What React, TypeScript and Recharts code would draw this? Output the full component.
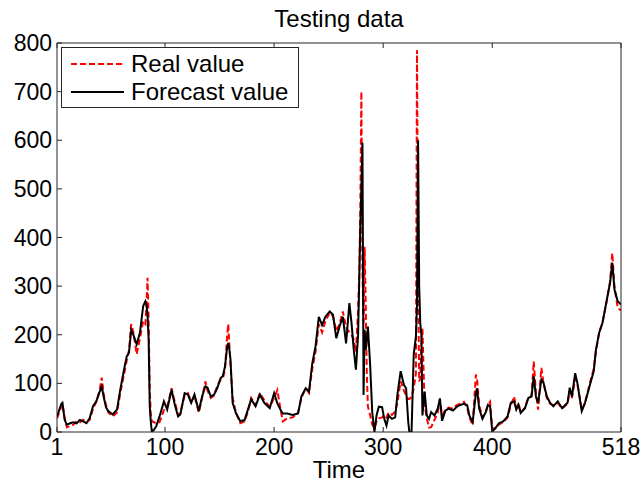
import { Line, LineChart, XAxis, YAxis } from 'recharts'

// time steps (irregular spacing, denser around spikes)
const time = [
  1, 3, 5, 6, 8, 10, 13, 16, 19, 22, 25, 28, 31, 34, 37, 40, 42, 44, 46, 48,
  52, 56, 59, 63, 65, 67, 69, 71, 74, 77, 80, 82, 83, 84, 85, 86, 87, 88, 90, 92,
  95, 99, 102, 106, 109, 112, 114, 118, 121, 124, 127, 131, 134, 137, 139, 142, 145, 148, 151, 153,
  155, 157, 158, 159, 160, 162, 165, 169, 173, 176, 179, 183, 187, 191, 196, 200, 203, 206, 208, 212,
  217, 222, 225, 229, 232, 235, 238, 241, 244, 247, 251, 254, 257, 260, 263, 266, 269, 271, 273, 275,
  277, 278, 279, 280, 281, 282, 283, 284, 285, 286, 288, 290, 292, 294, 296, 299, 301, 303, 305, 308,
  311, 313, 316, 319, 321, 323, 324, 326, 328, 330, 331, 332, 333, 334, 335, 336, 337, 338, 340, 342,
  344, 347, 350, 352, 354, 357, 360, 364, 367, 370, 374, 377, 379, 382, 385, 386, 388, 391, 394, 396,
  398, 400, 403, 406, 410, 414, 417, 420, 422, 424, 426, 430, 433, 436, 438, 440, 442, 445, 447, 450,
  453, 456, 460, 464, 469, 471, 473, 476, 478, 482, 485, 490, 493, 495, 498, 501, 505, 508, 510, 512,
  515, 518,
]

const realValue = [
  28, 40, 52, 58, 30, 10, 12, 15, 22, 20, 25, 20, 25, 48, 62, 85, 112, 75, 55, 40,
  32, 40, 80, 125, 148, 168, 222, 205, 160, 192, 228, 222, 260, 317, 230, 90, 35, 22, 20, 18,
  20, 45, 52, 90, 62, 35, 38, 75, 80, 62, 74, 40, 70, 104, 85, 70, 75, 95, 108, 110,
  128, 200, 222, 180, 140, 70, 40, 18, 22, 42, 70, 55, 80, 65, 52, 70, 86, 45, 22, 28,
  30, 40, 70, 90, 80, 130, 165, 222, 205, 228, 245, 238, 208, 222, 248, 215, 205, 200, 190, 165,
  250, 320, 450, 700, 330, 220, 381, 260, 120, 52, 35, 15, 8, 22, 28, 30, 35, 30, 40, 35,
  42, 60, 104, 85, 75, 68, 68, 72, 90, 120, 785, 320, 104, 110, 180, 213, 130, 55, 28, 9,
  10, 25, 40, 65, 35, 45, 50, 48, 55, 58, 62, 50, 30, 15, 118, 110, 55, 30, 40, 55,
  62, 5, 10, 15, 20, 30, 55, 73, 50, 60, 40, 50, 70, 75, 145, 82, 46, 132, 100, 70,
  58, 55, 60, 48, 58, 85, 70, 110, 100, 45, 60, 105, 130, 165, 205, 225, 270, 310, 368, 300,
  255, 250,
]

const forecastValue = [
  32, 45, 58, 60, 25, 15, 18, 20, 18, 25, 22, 18, 29, 53, 63, 82, 94, 70, 50, 43,
  36, 46, 87, 135, 156, 163, 210, 200, 180, 204, 259, 269, 262, 240, 190, 53, 20, 0, 5, 12,
  32, 63, 46, 87, 56, 32, 36, 80, 77, 60, 77, 43, 73, 94, 91, 73, 77, 91, 111, 115,
  135, 175, 183, 170, 150, 60, 39, 22, 25, 46, 67, 53, 77, 60, 49, 80, 59, 45, 38, 38,
  35, 38, 73, 90, 83, 141, 176, 237, 220, 237, 248, 241, 193, 217, 237, 182, 265, 224, 170, 128,
  200, 306, 420, 500, 595, 76, 210, 169, 190, 217, 140, 40, 0, 35, 52, 51, 27, 13, 34, 27,
  30, 76, 125, 97, 90, 20, 0, 0, 160, 196, 260, 600, 300, 224, 200, 34, 60, 83, 34, 27,
  41, 34, 48, 69, 23, 44, 48, 44, 51, 55, 58, 55, 34, 20, 80, 90, 48, 27, 41, 56,
  53, 1, 8, 18, 22, 32, 60, 63, 46, 56, 39, 49, 70, 73, 115, 73, 60, 108, 101, 73,
  60, 53, 63, 49, 60, 91, 73, 121, 101, 43, 60, 101, 125, 169, 204, 224, 272, 307, 348, 293,
  269, 262,
]

const xTicks = [1, 100, 200, 300, 400, 518]
const yTicks = [0, 100, 200, 300, 400, 500, 600, 700, 800]

const data = time.map((t, i) => ({ t, real: realValue[i], forecast: forecastValue[i] }))

const FONT = '"Liberation Sans", Arial, sans-serif'
const FRAME = '#262626'

function BottomTick({ x, y, payload }: any) {
  return (
    <g>
      <line x1={x} y1={y} x2={x} y2={y - 5} stroke={FRAME} />
      <text x={x} y={y + 23} textAnchor="middle" fontSize={23} fontFamily={FONT} fill="#000">
        {payload.value}
      </text>
    </g>
  )
}

function LeftTick({ x, y, payload }: any) {
  return (
    <g>
      <line x1={x} y1={y} x2={x + 5} y2={y} stroke={FRAME} />
      <text x={x - 5} y={y + 8} textAnchor="end" fontSize={23} fontFamily={FONT} fill="#000">
        {payload.value}
      </text>
    </g>
  )
}

function TopTick({ x, y }: any) {
  return <line x1={x} y1={y} x2={x} y2={y + 5} stroke={FRAME} />
}

function RightTick({ x, y }: any) {
  return <line x1={x} y1={y} x2={x - 5} y2={y} stroke={FRAME} />
}

export default function App() {
  return (
    <div style={{ position: 'absolute', left: 0, top: 0, width: 644, height: 485, background: '#fff' }}>
      <div
        style={{
          position: 'absolute', left: 57, width: 564, top: 7, textAlign: 'center',
          fontFamily: FONT, fontSize: 24, lineHeight: '24px', color: '#000',
        }}
      >
        Testing data
      </div>
      <LineChart width={644} height={485} data={data} margin={{ top: 38, right: 0, bottom: 0, left: 0 }}>
        <XAxis
          dataKey="t"
          type="number"
          domain={[1, 518]}
          ticks={xTicks}
          height={53}
          tickSize={0}
          tickMargin={0}
          tickLine={false}
          tick={<BottomTick />}
          axisLine={{ stroke: FRAME }}
          allowDataOverflow
        />
        <XAxis
          xAxisId="top"
          orientation="top"
          dataKey="t"
          type="number"
          domain={[1, 518]}
          ticks={xTicks}
          height={5}
          tickSize={0}
          tickMargin={0}
          tickLine={false}
          tick={<TopTick />}
          axisLine={{ stroke: FRAME }}
        />
        <YAxis
          type="number"
          domain={[0, 800]}
          ticks={yTicks}
          width={57}
          tickSize={0}
          tickMargin={0}
          tickLine={false}
          tick={<LeftTick />}
          axisLine={{ stroke: FRAME }}
          allowDataOverflow
        />
        <YAxis
          yAxisId="right"
          orientation="right"
          type="number"
          domain={[0, 800]}
          ticks={yTicks}
          width={23}
          tickSize={0}
          tickMargin={0}
          tickLine={false}
          tick={<RightTick />}
          axisLine={{ stroke: FRAME }}
        />
        <Line
          type="linear"
          dataKey="real"
          stroke="#ff0000"
          strokeWidth={2}
          strokeDasharray="6 3"
          dot={false}
          isAnimationActive={false}
        />
        <Line
          type="linear"
          dataKey="forecast"
          stroke="#000"
          strokeWidth={2}
          dot={false}
          isAnimationActive={false}
        />
      </LineChart>
      <div
        style={{
          position: 'absolute', left: 61, top: 47, width: 236, height: 59,
          border: `1px solid ${FRAME}`, background: '#fff', fontFamily: FONT, fontSize: 24,
        }}
      >
        <div style={{ position: 'absolute', left: 9, top: 3, display: 'flex', alignItems: 'center', height: 26 }}>
          <svg width={53} height={10}>
            <line x1={0} y1={5} x2={53} y2={5} stroke="#ff0000" strokeWidth={2} strokeDasharray="6 3" />
          </svg>
          <span style={{ marginLeft: 7, lineHeight: '26px' }}>Real value</span>
        </div>
        <div style={{ position: 'absolute', left: 9, top: 31, display: 'flex', alignItems: 'center', height: 26 }}>
          <svg width={53} height={10}>
            <line x1={0} y1={5} x2={53} y2={5} stroke="#000" strokeWidth={2} />
          </svg>
          <span style={{ marginLeft: 7, lineHeight: '26px' }}>Forecast value</span>
        </div>
      </div>
      <div
        style={{
          position: 'absolute', left: 57, width: 564, top: 458, textAlign: 'center',
          fontFamily: FONT, fontSize: 24, lineHeight: '24px', color: '#000',
        }}
      >
        Time
      </div>
    </div>
  )
}
